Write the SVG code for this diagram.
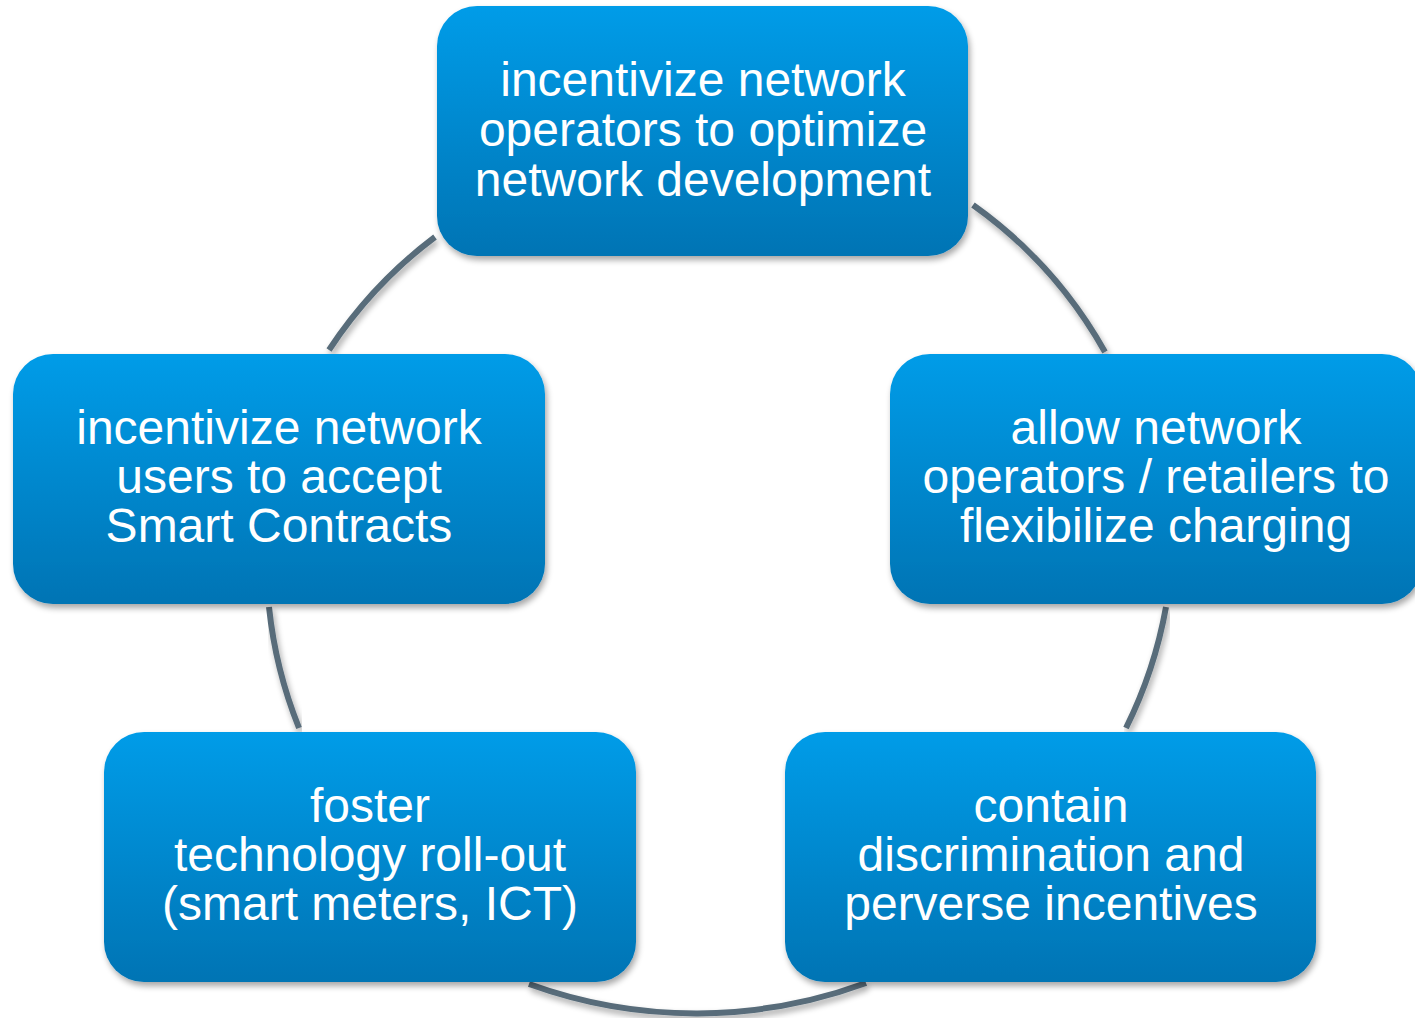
<svg xmlns="http://www.w3.org/2000/svg" width="1415" height="1020" viewBox="0 0 1415 1020">
  <defs>
    <linearGradient id="boxGrad" x1="0" y1="0" x2="0" y2="1">
      <stop offset="0" stop-color="#029CE8"/>
      <stop offset="1" stop-color="#0074B4"/>
    </linearGradient>
    <filter id="shadow" x="-10%" y="-10%" width="120%" height="125%">
      <feGaussianBlur in="SourceAlpha" stdDeviation="3"/>
      <feOffset dx="2" dy="4" result="b"/>
      <feComponentTransfer><feFuncA type="linear" slope="0.35"/></feComponentTransfer>
      <feMerge><feMergeNode/><feMergeNode in="SourceGraphic"/></feMerge>
    </filter>
  </defs>
  <style>
    .box { fill: url(#boxGrad); filter: url(#shadow); }
    .lbl { font-family: "Liberation Sans", Arial, sans-serif; font-size: 48px; fill: #FFFFFF; text-anchor: middle; }
    .conn { fill: none; stroke: #586C7A; stroke-width: 6; filter: url(#shadow); }
  </style>
  <rect width="1415" height="1020" fill="#FFFFFF"/>
  <g id="connectors">
    <path class="conn" d="M329,350 A450,450 0 0 1 435,237"/>
    <path class="conn" d="M973,205 A450,450 0 0 1 1105,352"/>
    <path class="conn" d="M1166,607 A450,450 0 0 1 1126,728"/>
    <path class="conn" d="M866,983 A490,490 0 0 1 529,984"/>
    <path class="conn" d="M299,728 A450,450 0 0 1 269,607"/>
  </g>
  <g id="node-top">
    <rect class="box" x="437" y="6" width="531" height="250" rx="40" ry="40"/>
    <text class="lbl" x="703" y="96">incentivize network</text>
    <text class="lbl" x="703" y="146">operators to optimize</text>
    <text class="lbl" x="703" y="196">network development</text>
  </g>
  <g id="node-right">
    <rect class="box" x="890" y="354" width="532" height="250" rx="40" ry="40"/>
    <text class="lbl" x="1156" y="444">allow network</text>
    <text class="lbl" x="1156" y="493">operators / retailers to</text>
    <text class="lbl" x="1156" y="542">flexibilize charging</text>
  </g>
  <g id="node-bottom-right">
    <rect class="box" x="785" y="732" width="531" height="250" rx="40" ry="40"/>
    <text class="lbl" x="1051" y="822">contain</text>
    <text class="lbl" x="1051" y="871">discrimination and</text>
    <text class="lbl" x="1051" y="920">perverse incentives</text>
  </g>
  <g id="node-bottom-left">
    <rect class="box" x="104" y="732" width="532" height="250" rx="40" ry="40"/>
    <text class="lbl" x="370" y="822">foster</text>
    <text class="lbl" x="370" y="871">technology roll-out</text>
    <text class="lbl" x="370" y="920">(smart meters, ICT)</text>
  </g>
  <g id="node-left">
    <rect class="box" x="13" y="354" width="532" height="250" rx="40" ry="40"/>
    <text class="lbl" x="279" y="444">incentivize network</text>
    <text class="lbl" x="279" y="493">users to accept</text>
    <text class="lbl" x="279" y="542">Smart Contracts</text>
  </g>
</svg>
